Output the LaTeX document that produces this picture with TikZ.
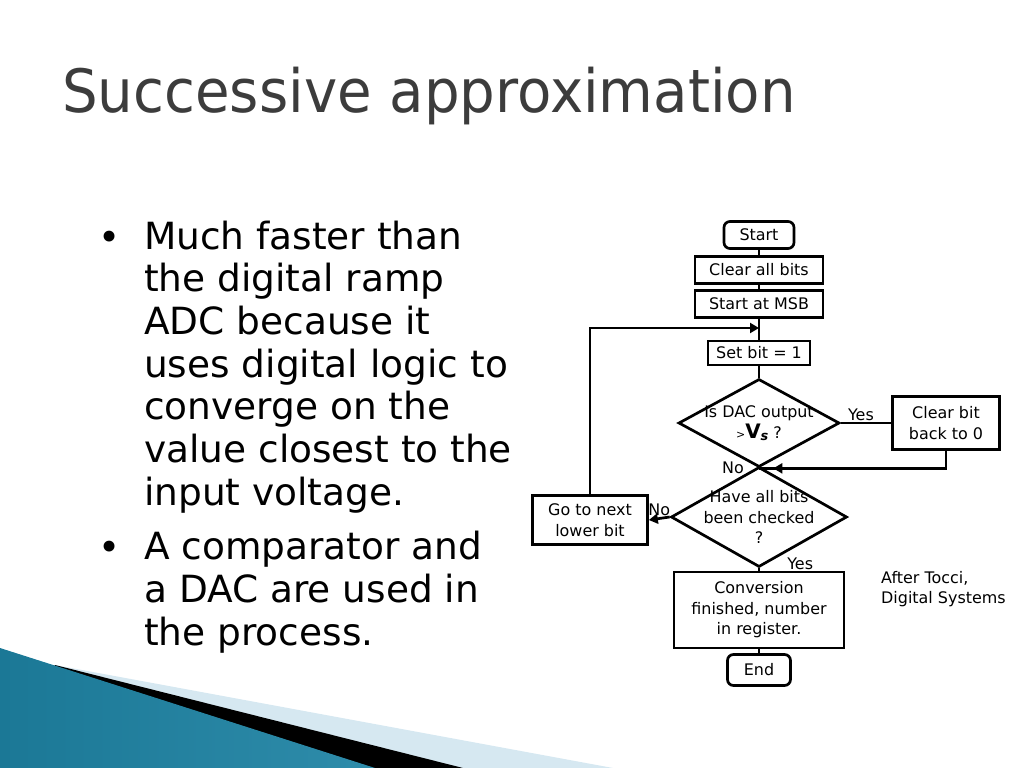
\documentclass[tikz,border=0pt]{standalone}
\usepackage{fontspec}
\setmainfont{DejaVu Sans}
\usetikzlibrary{arrows.meta,positioning,shapes.geometric,decorations.markings}
\definecolor{titlegray}{HTML}{3C3C3C}
\definecolor{tealdark}{HTML}{1B7896}
\definecolor{teallight}{HTML}{5ABBDA}
\definecolor{bandblue}{HTML}{D6E8F1}
\newcommand{\flowfont}{\fontsize{16}{20.5}\selectfont}
\newcommand{\bodyfont}{\fontsize{37.6}{42.8}\selectfont}
\tikzset{
  flow/.style={line width=2.7bp, black},
  box/.style={draw, line width=2.7bp, rectangle, align=center, font=\flowfont, inner sep=0pt},
  term/.style={draw, line width=2.7bp, rectangle, rounded corners=6bp, font=\flowfont, inner sep=0pt},
  dec/.style={draw, line width=2.7bp, diamond, inner sep=0pt},
  lbl/.style={font=\flowfont, inner sep=1pt},
  tip/.style={-{Triangle[length=9bp,width=10bp]}},
  tipat/.style={postaction={decorate}, decoration={markings, mark=at position #1 with {\arrow{Triangle[length=9bp,width=10bp]}}}},
  bul/.style={font=\bodyfont, align=left, anchor=base west, inner sep=0pt},
  dot/.style={font=\bodyfont, anchor=base, inner sep=0pt},
}
\begin{document}
\begin{tikzpicture}[x=1bp,y=-1bp]
\useasboundingbox (0,0) rectangle (1024,768);
% corner decoration
\fill[bandblue] (55,665) -- (613,768) -- (0,768) -- cycle;
\fill[black] (55,665) -- (463,768) -- (0,768) -- cycle;
\shade[left color=tealdark, middle color=teallight, right color=tealdark!70!teallight] (0,648) -- (375,768) -- (0,768) -- cycle;
% title and bullets
\node[font=\fontsize{60}{60}\selectfont, text=titlegray, anchor=base west, inner sep=0pt] (ttl) at (62,112) {\scalebox{0.94}[1]{Successive approximation}};
\node[bul] (p1) at (144,505) {Much faster than\\the digital ramp\\ADC because it\\uses digital logic to\\converge on the\\value closest to the\\input voltage.};
\node[dot] (d1) at (110,250) {•};
\node[bul] (p2) at (144,645) {A comparator and\\a DAC are used in\\the process.};
\node[dot] (d2) at (110,560) {•};
% flowchart
\node[term, minimum width=70bp, minimum height=27bp] (start) at (759,235) {Start};
\node[box, minimum width=128bp, minimum height=27bp] (clr) at (759,270) {Clear all bits};
\node[box, minimum width=128bp, minimum height=27bp] (msb) at (759,304) {Start at MSB};
\coordinate (loopin) at (759,328);
\node[box, minimum width=102bp, minimum height=24bp] (setb) at (759,353) {Set bit = 1};
\node[dec, minimum width=161bp, minimum height=88bp,
  label={[lbl, align=center]center:Is DAC output\\{\fontsize{11}{11}\selectfont>}{\bfseries\fontsize{20}{20}\selectfont V}\raisebox{-2bp}{\bfseries\itshape\fontsize{13}{13}\selectfont s}\ ?}] (dac) at (759,423) {};
\node[box, minimum width=107bp, minimum height=53bp] (back) at (946,423) {Clear bit\\back to 0};
\node[dec, minimum width=176bp, minimum height=100bp,
  label={[lbl, align=center]center:Have all bits\\been checked\\?}] (chk) at (759,517) {};
\node[box, minimum width=115bp, minimum height=49bp] (next) at (590,520) {Go to next\\lower bit};
\node[box, minimum width=170bp, minimum height=76bp] (done) at (759,610) {Conversion\\finished, number\\in register.};
\node[term, minimum width=63bp, minimum height=31bp] (fin) at (759,670) {End};
\node[lbl, align=left, anchor=north west] (src) at (880,570) {After Tocci,\\Digital Systems};
% connectors
\draw[flow] (start) -- (clr);
\draw[flow] (clr) -- (msb);
\draw[flow] (msb) -- (setb);
\draw[flow] (setb) -- (dac.north);
\draw[flow] (dac.east) -- node[lbl, above, pos=0.4] {Yes} (back.west);
\draw[flow, tipat=0.93] (back.south) |- (dac.south);
\node[lbl, anchor=east] (no1) at ([xshift=-14bp,yshift=1bp]dac.south) {No};
\draw[flow, tip] (chk.west) -- node[lbl, above] {No} (next.east);
\draw[flow, tip] (next.north) |- (loopin);
\draw[flow] (chk.south) -- node[lbl, anchor=west, xshift=26bp, yshift=6bp] {Yes} (done.north);
\draw[flow] (done) -- (fin);
\end{tikzpicture}
\end{document}
